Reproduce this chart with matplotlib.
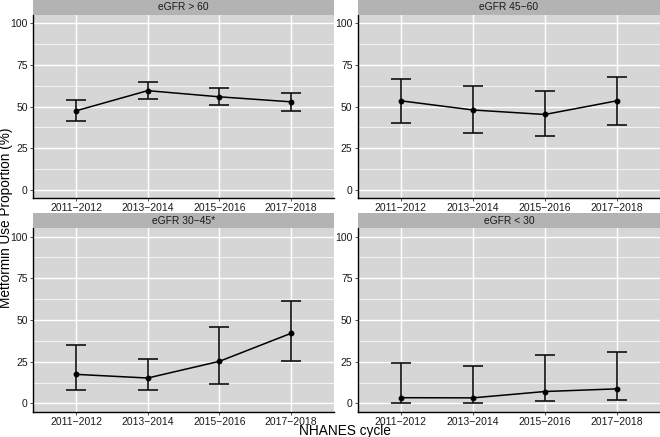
import numpy as np
import matplotlib
matplotlib.use("Agg")
import matplotlib.pyplot as plt

plt.rcParams['font.family'] = ['Liberation Sans', 'DejaVu Sans']

# data
cycles = ["2011\u22122012", "2013\u22122014", "2015\u22122016", "2017\u22122018"]
panels = ["eGFR > 60", "eGFR 45\u221260", "eGFR 30\u221245*", "eGFR < 30"]

est_gt60 = [47.5, 59.6, 55.9, 52.9]
lo_gt60 = [41.4, 54.7, 50.7, 47.3]
hi_gt60 = [53.7, 64.6, 61.0, 58.4]

est_45_60 = [53.5, 48.0, 45.3, 53.5]
lo_45_60 = [40.0, 34.0, 32.4, 39.0]
hi_45_60 = [66.4, 62.2, 59.6, 67.6]

est_30_45 = [17.4, 15.2, 25.2, 42.0]
lo_30_45 = [7.8, 8.2, 11.7, 25.2]
hi_30_45 = [34.8, 26.8, 45.9, 61.2]

est_lt30 = [3.4, 3.3, 7.1, 8.7]
lo_lt30 = [0.2, 0.4, 1.4, 1.8]
hi_lt30 = [24.4, 22.7, 29.2, 30.9]

series = [(est_gt60, lo_gt60, hi_gt60),
          (est_45_60, lo_45_60, hi_45_60),
          (est_30_45, lo_30_45, hi_30_45),
          (est_lt30, lo_lt30, hi_lt30)]

W, H = 660, 437
fig = plt.figure(figsize=(W / 100, H / 100), dpi=100)

# panel boxes in pixels: (left, top, right, bottom)
boxes = [(33, 15, 334, 198.3), (357.7, 15, 660, 198.3),
         (33, 228.3, 334, 411.7), (357.7, 228.3, 660, 411.7)]
strip_h = 15

panel_bg = '#d6d6d6'
strip_bg = '#b3b3b3'
x = np.arange(1, len(cycles) + 1)

for (l, t, r, b), title, (est, lo, hi) in zip(boxes, panels, series):
    ax = fig.add_axes([l / W, 1 - b / H, (r - l) / W, (b - t) / H])
    ax.set_facecolor(panel_bg)
    ax.set_xlim(0.4, 4.6)
    ax.set_ylim(-5, 105)
    ax.set_yticks([0, 25, 50, 75, 100])
    ax.set_yticks([12.5, 37.5, 62.5, 87.5], minor=True)
    ax.set_xticks(x)
    ax.set_xticklabels(cycles)
    ax.grid(True, which='major', color='white', lw=1.0)
    ax.grid(True, which='minor', axis='y', color='white', lw=0.5)
    ax.set_axisbelow(True)
    for s in ['top', 'right']:
        ax.spines[s].set_visible(False)
    for s in ['left', 'bottom']:
        ax.spines[s].set_color('black')
        ax.spines[s].set_linewidth(1.0)
    ax.tick_params(axis='both', which='major', labelsize=7.5, colors='#333333',
                   length=2.5, width=0.6, pad=1.2, labelcolor='#1a1a1a')
    ax.tick_params(axis='y', which='minor', length=0)

    est = np.array(est)
    ax.errorbar(x, est, yerr=[est - np.array(lo), np.array(hi) - est],
                fmt='none', ecolor='#111111', elinewidth=1.2, capsize=7.5,
                capthick=1.2, zorder=3)
    ax.plot(x, est, color='black', lw=1.1, zorder=4)
    ax.plot(x, est, 'o', color='black', ms=3.2, zorder=5)

    # strip
    sax = fig.add_axes([l / W, 1 - t / H, (r - l) / W, strip_h / H])
    sax.set_facecolor(strip_bg)
    sax.set_xticks([])
    sax.set_yticks([])
    for s in sax.spines.values():
        s.set_visible(False)
    sax.text(0.5, 0.5, title, ha='center', va='center', fontsize=7.4,
             color='#1a1a1a', transform=sax.transAxes)

fig.text(345 / W, 1 - 435 / H, "NHANES cycle", ha='center', va='baseline',
         fontsize=9.8, color='black')
fig.text(6.5 / W, 1 - 218 / H, "Metformin Use Proportion (%)", ha='center',
         va='center', rotation=90, fontsize=9.8, color='black')

fig.savefig("out.png", dpi=100)
